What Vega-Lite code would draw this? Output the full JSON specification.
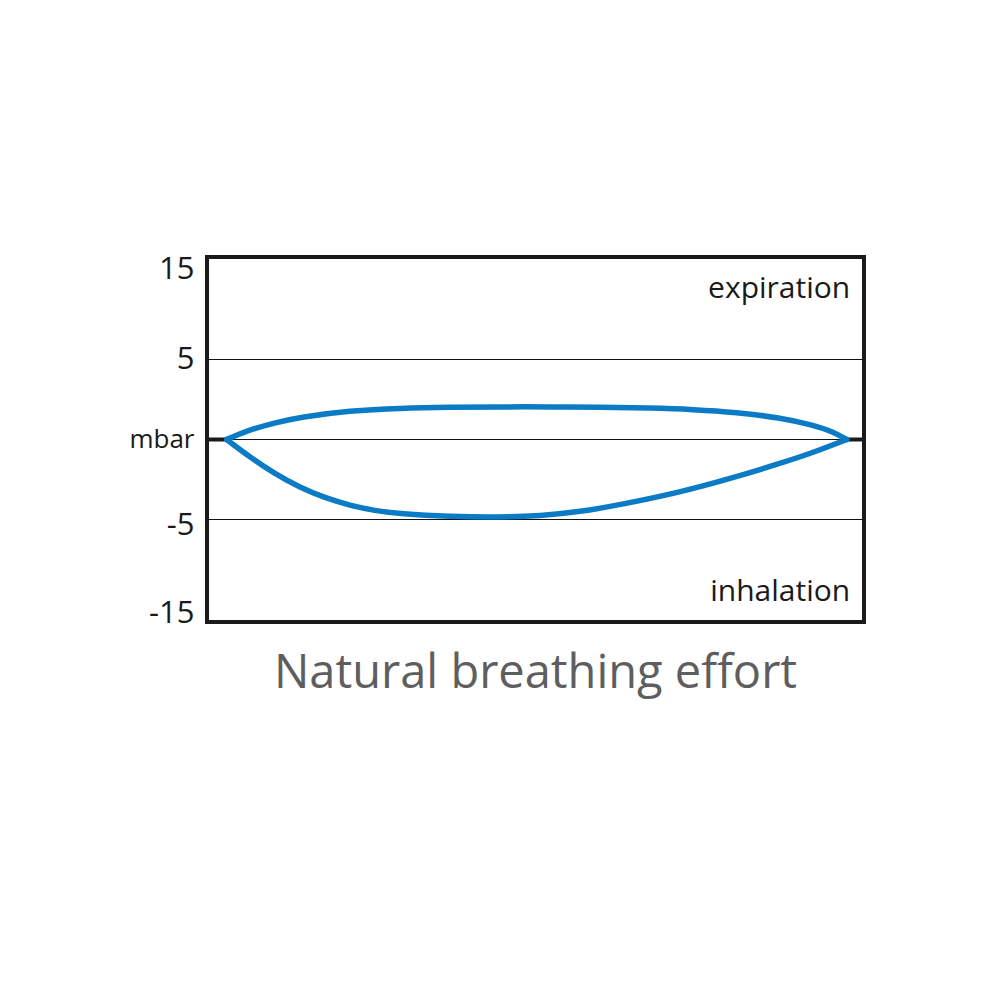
{
  "$schema": "https://vega.github.io/schema/vega-lite/v6.json",
  "width": 657,
  "height": 365,
  "autosize": {"type": "none"},
  "padding": {"left": 207, "top": 257, "right": 136, "bottom": 378},
  "background": "white",
  "config": {"view": {"stroke": "#1a1a1a", "strokeWidth": 4}, "font": "Open Sans"},
  "title": {"text": "Natural breathing effort", "orient": "bottom", "anchor": "middle", "fontSize": 47, "fontWeight": "normal", "color": "#5e5e5e", "font": "Open Sans", "offset": 22},
  "layer": [
    {
      "data": {"values": [{"y": 5}, {"y": 0}, {"y": -5}]},
      "mark": {"type": "rule", "color": "#111111", "strokeWidth": 1},
      "encoding": {
        "y": {"field": "y", "type": "quantitative",
          "scale": {"domain": [-15, -5, 0, 5, 15], "range": [356.5, 262.5, 182.5, 102.5, 12.5], "nice": false, "zero": false},
          "axis": {"values": [15, 5, 0, -5, -15], "title": null, "domain": false, "ticks": false, "grid": false,
            "labelExpr": "datum.value == 0 ? 'mbar' : '' + datum.value",
            "labelFont": "Open Sans", "labelColor": "#1a1a1a", "labelPadding": 13,
            "labelFontSize": {"condition": {"test": "datum.value == 0", "value": 26}, "value": 31},
            "labelOffset": {"condition": {"test": "datum.value == -5", "value": 6}, "value": 0}}}
      }
    },
    {
      "data": {"values": [{"x": 0, "x2": 3, "y": 0}, {"x": 97.4, "x2": 100, "y": 0}]},
      "mark": {"type": "rule", "color": "#1a1a1a", "strokeWidth": 4},
      "encoding": {
        "x": {"field": "x", "type": "quantitative", "scale": {"domain": [0, 100], "nice": false, "zero": false}, "axis": null},
        "x2": {"field": "x2"},
        "y": {"field": "y", "type": "quantitative"}
      }
    },
    {
      "data": {"values": [
        {"branch": "upper", "x": 3.0, "y": 0},
        {"branch": "upper", "x": 6.0, "y": 0.55},
        {"branch": "upper", "x": 10.35, "y": 1.05},
        {"branch": "upper", "x": 14.16, "y": 1.4},
        {"branch": "upper", "x": 21.77, "y": 1.8},
        {"branch": "upper", "x": 29.38, "y": 1.96},
        {"branch": "upper", "x": 36.99, "y": 2.02},
        {"branch": "upper", "x": 44.6, "y": 2.04},
        {"branch": "upper", "x": 52.21, "y": 2.04},
        {"branch": "upper", "x": 59.82, "y": 2.02},
        {"branch": "upper", "x": 67.43, "y": 1.97},
        {"branch": "upper", "x": 74.0, "y": 1.88},
        {"branch": "upper", "x": 80.6, "y": 1.7},
        {"branch": "upper", "x": 87.21, "y": 1.36},
        {"branch": "upper", "x": 92.24, "y": 0.9},
        {"branch": "upper", "x": 95.2, "y": 0.5},
        {"branch": "upper", "x": 97.37, "y": 0},
        {"branch": "lower", "x": 3.0, "y": 0},
        {"branch": "lower", "x": 6.54, "y": -1.1},
        {"branch": "lower", "x": 10.35, "y": -2.15},
        {"branch": "lower", "x": 14.16, "y": -3.0},
        {"branch": "lower", "x": 17.96, "y": -3.65},
        {"branch": "lower", "x": 21.77, "y": -4.12},
        {"branch": "lower", "x": 25.57, "y": -4.45},
        {"branch": "lower", "x": 29.38, "y": -4.65},
        {"branch": "lower", "x": 36.99, "y": -4.82},
        {"branch": "lower", "x": 44.6, "y": -4.86},
        {"branch": "lower", "x": 50.68, "y": -4.78},
        {"branch": "lower", "x": 56.77, "y": -4.52},
        {"branch": "lower", "x": 62.86, "y": -4.08},
        {"branch": "lower", "x": 72.0, "y": -3.3},
        {"branch": "lower", "x": 79.6, "y": -2.45},
        {"branch": "lower", "x": 87.21, "y": -1.5},
        {"branch": "lower", "x": 92.24, "y": -0.82},
        {"branch": "lower", "x": 97.37, "y": 0}
      ]},
      "mark": {"type": "line", "color": "#0a7bc4", "strokeWidth": 5.5, "interpolate": "basis", "strokeCap": "round", "strokeJoin": "round"},
      "encoding": {
        "x": {"field": "x", "type": "quantitative"},
        "y": {"field": "y", "type": "quantitative"},
        "detail": {"field": "branch"}
      }
    },
    {
      "data": {"values": [{"x": 97.9, "y": 11.78, "label": "expiration"}, {"x": 97.9, "y": -13.62, "label": "inhalation"}]},
      "mark": {"type": "text", "align": "right", "baseline": "alphabetic", "fontSize": 30, "font": "Open Sans", "color": "#1a1a1a"},
      "encoding": {
        "x": {"field": "x", "type": "quantitative"},
        "y": {"field": "y", "type": "quantitative"},
        "text": {"field": "label"}
      }
    }
  ]
}
